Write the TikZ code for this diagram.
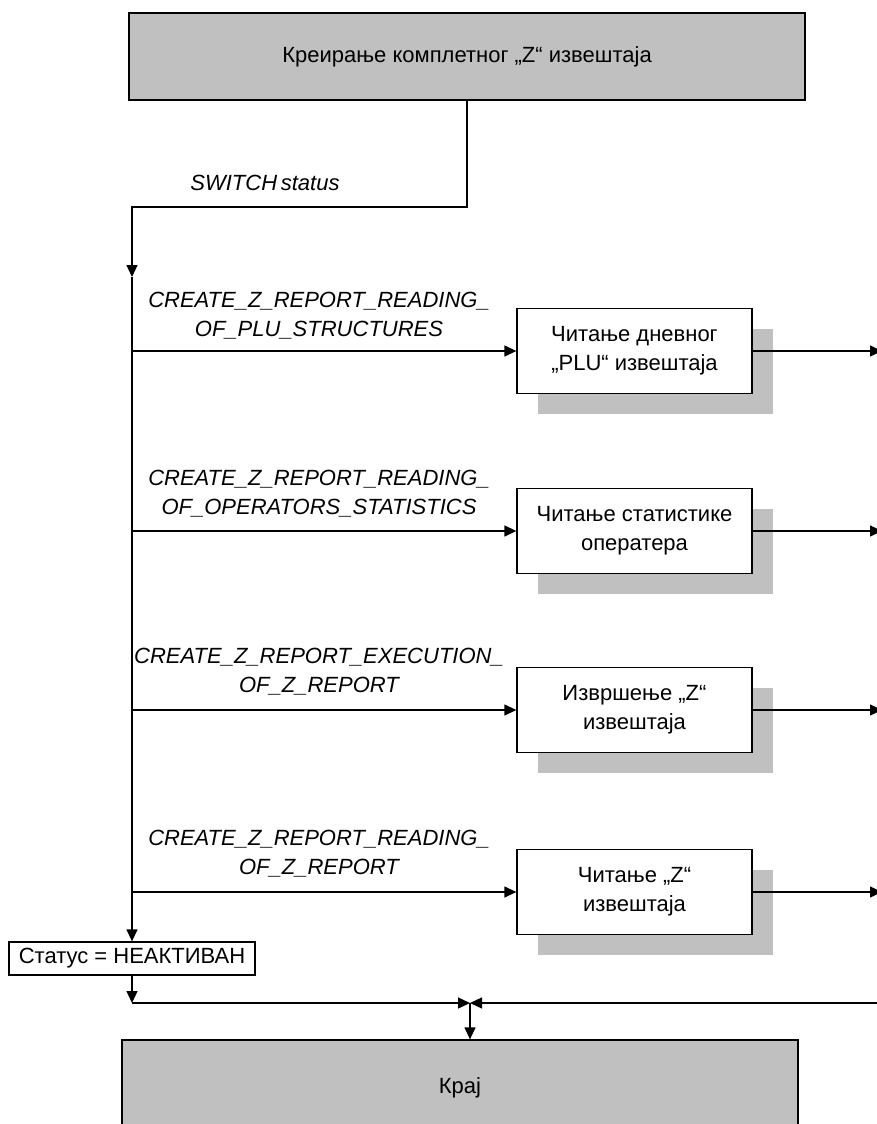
\documentclass[tikz,border=0pt]{standalone}
\usepackage{fontspec}
\setmainfont{Liberation Sans}
\usepackage{xcolor}
\usepackage{tikz}
\usetikzlibrary{positioning,arrows.meta,shadows}

\definecolor{boxgray}{HTML}{C0C0C0}

\begin{document}
\begin{tikzpicture}[
  x=1pt, y=-1pt,
  font=\fontsize{22}{29}\selectfont,
  bigbox/.style={draw, line width=1.3pt, fill=boxgray, minimum width=676pt, inner sep=0pt},
  proc/.style={draw, line width=1.3pt, fill=white, minimum width=235pt, minimum height=85pt, align=center,
    drop shadow={shadow xshift=21pt, shadow yshift=-20pt, fill=boxgray, opacity=1}},
  lbl/.style={font=\fontsize{22}{29}\selectfont\itshape, align=center, inner sep=0pt},
  arr/.style={-{Triangle[length=12pt, width=11pt]}, line width=1.3pt}
]
  \useasboundingbox (0,0) rectangle (877,1124);
  \clip (0,0) rectangle (877,1124);

  % ===== START =====
  \node[bigbox, minimum height=87pt] (start) at (467,56.5) {Креирање комплетног „Z“ извештаја};

  \coordinate (sw) at (132,207);
  \coordinate (c0) at (132,277);
  \draw[arr] (start.south) |- (sw) -- (c0);
  \node[lbl] (switch) at (265,183) {SWITCH\,status};

  % ===== BRANCHES =====
  \node[proc] (b1) at (634.5,351) {Читање дневног\\„PLU“ извештаја};
  \node[proc] (b2) at (634.5,531) {Читање статистике\\оператера};
  \node[proc] (b3) at (634.5,710) {Извршење „Z“\\извештаја};
  \node[proc] (b4) at (634.5,892) {Читање „Z“\\извештаја};

  \node[lbl] (l1) at (319,316) {CREATE\_Z\_REPORT\_READING\_\\OF\_PLU\_STRUCTURES};
  \node[lbl] (l2) at (319,494) {CREATE\_Z\_REPORT\_READING\_\\OF\_OPERATORS\_STATISTICS};
  \node[lbl] (l3) at (319,672) {CREATE\_Z\_REPORT\_EXECUTION\_\\OF\_Z\_REPORT};
  \node[lbl] (l4) at (319,854) {CREATE\_Z\_REPORT\_READING\_\\OF\_Z\_REPORT};

  \coordinate (edge) at (882,0);
  \foreach \b in {b1,b2,b3,b4} {
    \draw[arr] (c0 |- \b.west) -- (\b.west);
    \draw[arr] (\b.east) -- (\b.east -| edge);
  }

  % ===== END =====
  \node[draw, line width=1.3pt, fill=white, minimum width=246pt, minimum height=33pt, inner sep=0pt] (status) at (132,958.5) {Статус = НЕАКТИВАН};
  \draw[arr] (c0) -- (status.north);

  \coordinate (bend) at (132,1003);
  \coordinate (j) at (470,1003);
  \coordinate (rin) at (882,1003);
  \draw[arr] (status.south) -- (bend);
  \draw[arr] (bend) -- (j);
  \draw[arr] (rin) -- (j);

  \node[bigbox, minimum height=96pt] (kraj) at (460,1088) {Крај};
  \draw[arr] (j) -- (j |- kraj.north);
\end{tikzpicture}
\end{document}
